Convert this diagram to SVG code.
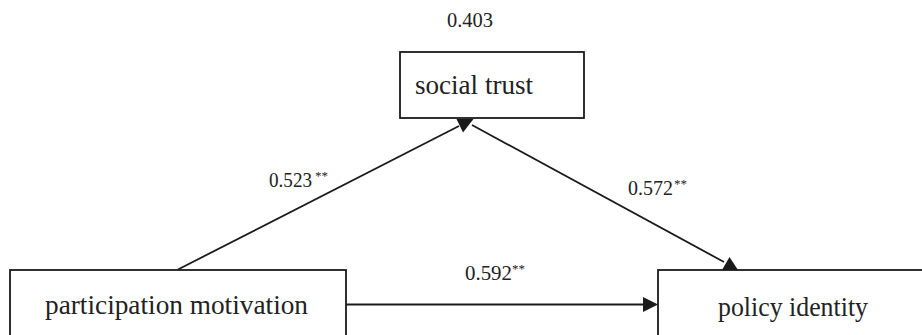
<svg xmlns="http://www.w3.org/2000/svg" width="922" height="335" viewBox="0 0 922 335">
<style>
text{font-family:'Liberation Serif','Times New Roman',Times,serif;fill:#222}
.box{fill:#fff;stroke:#1a1a1a;stroke-width:1.8}
.ln{stroke:#1a1a1a;stroke-width:1.8;fill:none}
.ah{fill:#1a1a1a;stroke:none}
.nt{font-size:28px}
.lb{font-size:21px}
.sp{font-size:13px}
</style>
<rect width="922" height="335" fill="#fff"/>
<g id="connectors">
<line class="ln" x1="178" y1="269.5" x2="459" y2="126"/>
<polygon class="ah" points="456.5,119 473.5,119 463,132.5"/>
<line class="ln" x1="472" y1="125" x2="724" y2="262"/>
<polygon class="ah" points="722,270 738,270 729.5,257"/>
<line class="ln" x1="346" y1="304.5" x2="645" y2="304.5"/>
<polygon class="ah" points="643,297 643,312 658,304.5"/>
</g>
<g id="labels">
<text class="lb" x="269" y="187" textLength="43" lengthAdjust="spacingAndGlyphs">0.523</text>
<text class="sp" x="315" y="180">**</text>
<text class="lb" x="628" y="195" textLength="45" lengthAdjust="spacingAndGlyphs">0.572</text>
<text class="sp" x="674" y="188">**</text>
<text class="lb" x="465" y="280" textLength="47" lengthAdjust="spacingAndGlyphs">0.592</text>
<text class="sp" x="512" y="273">**</text>
<text class="lb" x="447" y="27" textLength="46" lengthAdjust="spacingAndGlyphs">0.403</text>
</g>
<g id="social-trust">
<rect class="box" x="400" y="52" width="184" height="66"/>
<text class="nt" x="415" y="94" textLength="118" lengthAdjust="spacingAndGlyphs">social trust</text>
</g>
<g id="participation-motivation">
<rect class="box" x="10" y="270" width="336" height="80"/>
<text class="nt" x="45" y="314" textLength="263" lengthAdjust="spacingAndGlyphs">participation motivation</text>
</g>
<g id="policy-identity">
<rect class="box" x="658" y="270" width="280" height="80"/>
<text class="nt" x="718" y="316" textLength="150" lengthAdjust="spacingAndGlyphs">policy identity</text>
</g>
</svg>
